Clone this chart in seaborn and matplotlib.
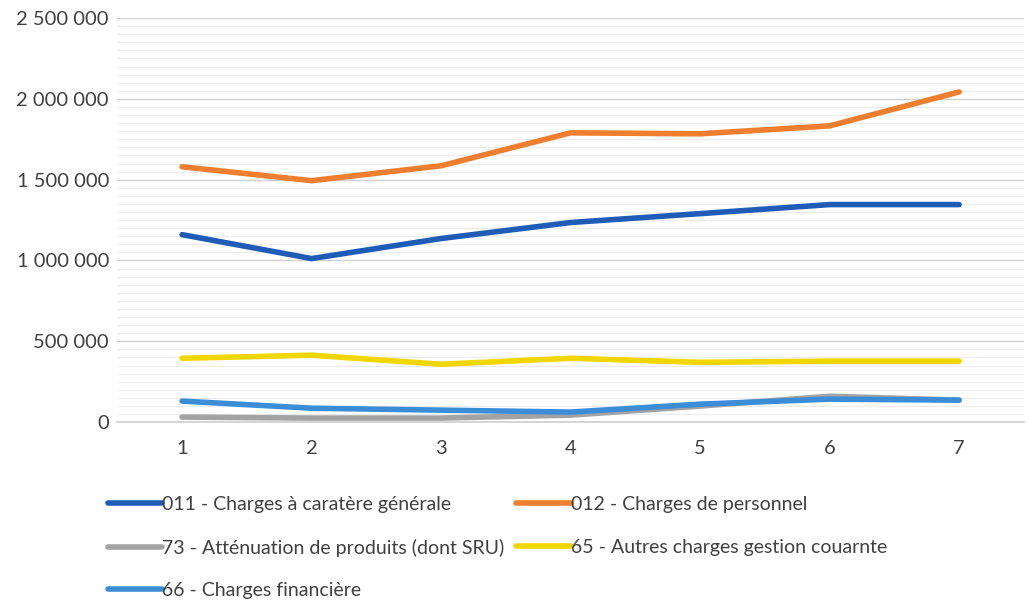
import matplotlib
matplotlib.use("Agg")
import matplotlib.pyplot as plt
import seaborn as sns
import pandas as pd
from matplotlib.ticker import MultipleLocator, FuncFormatter
from matplotlib.lines import Line2D

years = [1, 2, 3, 4, 5, 6, 7]
series_names = [
    "011 - Charges à caratère générale",
    "012 - Charges de personnel",
    "73 - Atténuation de produits (dont SRU)",
    "65 - Autres charges gestion couarnte",
    "66 - Charges financière",
]
charges_generales = [1160000, 1012000, 1136000, 1235000, 1290000, 1346000, 1346000]
charges_personnel = [1580000, 1494000, 1586000, 1790000, 1784000, 1833000, 2043000]
attenuation = [31000, 25000, 25000, 43000, 99000, 160000, 136000]
autres_charges = [395000, 414000, 358000, 395000, 370000, 377000, 377000]
charges_financieres = [130000, 86000, 74000, 62000, 111000, 142000, 136000]
colors = ["#1f5cb8", "#ef7f2e", "#a3a3a3", "#f2d600", "#3a8dd6"]

values = [charges_generales, charges_personnel, attenuation, autres_charges, charges_financieres]
df = pd.DataFrame({
    "x": years * len(series_names),
    "value": [v for s in values for v in s],
    "serie": [n for n in series_names for _ in years],
})

sns.set_theme(style="white")
plt.rcParams["font.family"] = ["Lato", "DejaVu Sans"]

fig = plt.figure(figsize=(10.29, 6.03), dpi=100)
ax = fig.add_axes([0.114, 0.300, 0.881, 0.670])

sns.lineplot(data=df, x="x", y="value", hue="serie", hue_order=series_names,
             palette=dict(zip(series_names, colors)), linewidth=4, ax=ax,
             legend=False, zorder=3)
ax.set_xlim(0.5, 7.5)
ax.set_ylim(0, 2500000)
ax.yaxis.set_major_locator(MultipleLocator(500000))
ax.yaxis.set_minor_locator(MultipleLocator(50000))
ax.set_xticks(years)
ax.yaxis.set_major_formatter(FuncFormatter(lambda v, p: f"{int(v):,}".replace(",", " ")))
ax.grid(which="major", axis="y", color="#d0d0d0", linewidth=1.0, zorder=0)
ax.grid(which="minor", axis="y", color="#ececec", linewidth=0.8, zorder=0)
for s in ["top", "right", "left"]:
    ax.spines[s].set_visible(False)
ax.spines["bottom"].set_color("#d0d0d0")
ax.tick_params(axis="both", which="both", length=0, labelsize=14.5, colors="#404040")
ax.tick_params(axis="x", pad=13)
ax.tick_params(axis="y", pad=6)
ax.set_xlabel("")
ax.set_ylabel("")

handles = {n: Line2D([0], [0], color=c, linewidth=4) for n, c in zip(series_names, colors)}
order = [series_names[0], series_names[2], series_names[4], series_names[1], series_names[3]]
fig.legend([handles[n] for n in order], order, ncol=2, loc="upper left",
           bbox_to_anchor=(0.088, 0.206), frameon=False, fontsize=14,
           handlelength=2.8, handletextpad=0.0, columnspacing=0.6,
           labelspacing=1.3, labelcolor="#404040")

fig.savefig("out.png", dpi=100, facecolor="white")
